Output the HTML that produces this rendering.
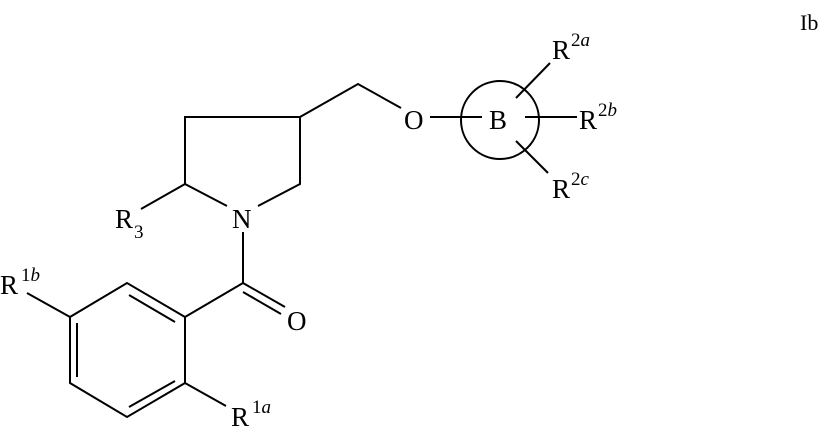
<!DOCTYPE html>
<html><head><style>body{margin:0;background:#fff}svg{display:block}text{font-family:"Liberation Serif",serif;fill:#000}</style></head><body>
<svg width="825" height="427" viewBox="0 0 825 427" xmlns="http://www.w3.org/2000/svg">
<g stroke="#000" stroke-width="2" fill="none">
<polyline points="227,206 185,184 185,117 300,117 300,184 258,206"/>
<line x1="185" y1="184" x2="141" y2="209"/>
<polyline points="300,117 358,84 401,108"/>
<line x1="430" y1="117" x2="482" y2="117"/>
<circle cx="500" cy="120" r="39"/>
<line x1="525" y1="117" x2="577" y2="117"/>
<line x1="516" y1="98" x2="550" y2="63"/>
<line x1="516" y1="141" x2="548" y2="173"/>
<line x1="243" y1="232" x2="243" y2="283"/>
<line x1="243" y1="283" x2="285" y2="307"/>
<line x1="243" y1="292" x2="281" y2="314"/>
<line x1="243" y1="283" x2="185" y2="317"/>
<polygon points="185,317 127,283 70,317 70,383 127,417 185,383"/>
<line x1="129" y1="295" x2="175" y2="322"/>
<line x1="77" y1="323" x2="77" y2="377"/>
<line x1="129" y1="407" x2="175" y2="381"/>
<line x1="70" y1="317" x2="27" y2="293"/>
<line x1="185" y1="383" x2="226" y2="406"/>
</g>
<g font-size="27">
<text x="232" y="228">N</text>
<text x="115" y="228">R</text><text x="134" y="238" font-size="19">3</text>
<text x="404" y="129">O</text>
<text x="489" y="129">B</text>
<text x="287" y="330">O</text>
<text x="579" y="129">R</text><text x="598" y="116" font-size="19">2<tspan font-style="italic">b</tspan></text>
<text x="552" y="59">R</text><text x="571" y="46" font-size="19">2<tspan font-style="italic">a</tspan></text>
<text x="552" y="198">R</text><text x="571" y="185" font-size="19">2<tspan font-style="italic">c</tspan></text>
<text x="0" y="294">R</text><text x="21" y="281" font-size="19">1<tspan font-style="italic">b</tspan></text>
<text x="231" y="426">R</text><text x="252" y="413" font-size="19">1<tspan font-style="italic">a</tspan></text>
<text x="800" y="30" font-size="22">Ib</text>
</g>
</svg>
</body></html>
